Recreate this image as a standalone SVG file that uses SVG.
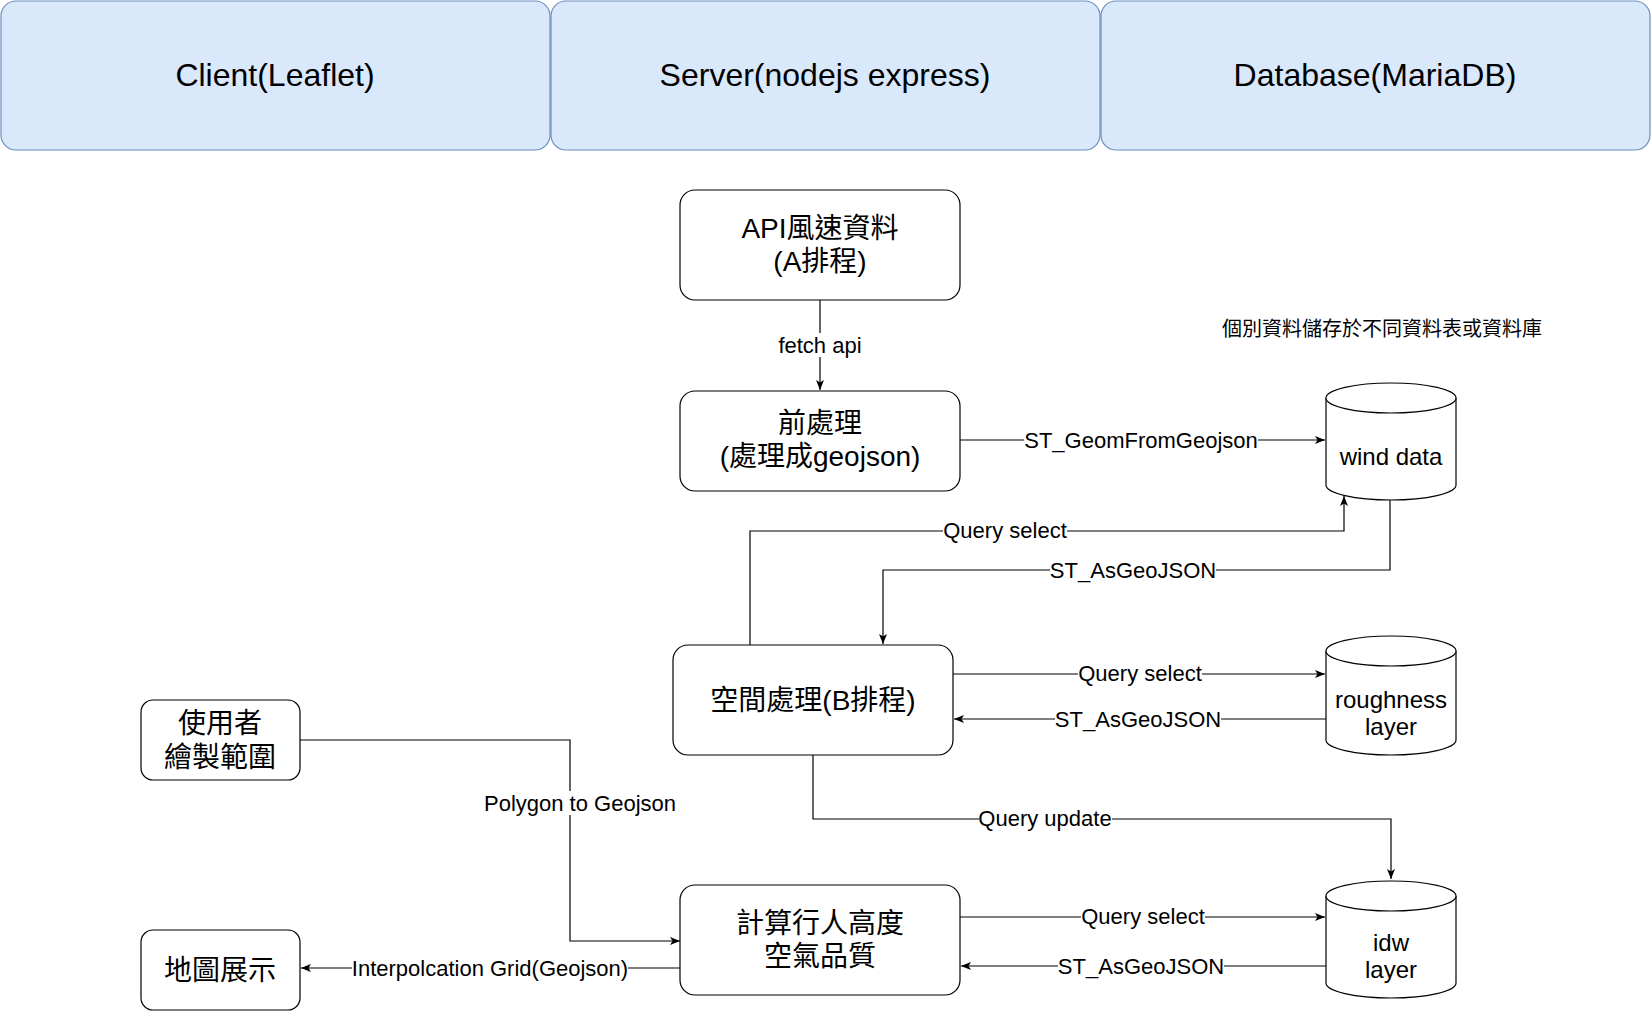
<svg xmlns="http://www.w3.org/2000/svg" width="1651" height="1011" viewBox="0 0 1651 1011">
<style>
text{font-family:"Liberation Sans","Noto Sans CJK TC",sans-serif;fill:#000;text-anchor:middle;dominant-baseline:central}
.hdr rect{fill:#dae8fc;stroke:#6c8ebf;stroke-width:1.2}
.hdr text{font-size:32px}
.node rect,.node path{fill:#fff;stroke:#000;stroke-width:1.2}
.node text{font-size:28px}
.cyl text{font-size:24px}
.edge{fill:none;stroke:#000;stroke-width:1.2}
.arr{marker-end:url(#ah)}
.lbl rect{fill:#fff;stroke:none}
.lbl text{font-size:22px}
.note{font-size:20px}
</style>
<defs>
<marker id="ah" markerUnits="userSpaceOnUse" markerWidth="10" markerHeight="8" refX="10" refY="4" orient="auto">
<path d="M0,0 L10,4 L0,8 L2.5,4 Z" fill="#000"/>
</marker>
</defs>
<rect width="1651" height="1011" fill="#fff"/>

<g id="hdr-client" class="hdr"><rect x="1" y="1" width="549" height="149" rx="15"/><text x="275" y="75">Client(Leaflet)</text></g>
<g id="hdr-server" class="hdr"><rect x="551" y="1" width="549" height="149" rx="15"/><text x="825" y="75">Server(nodejs express)</text></g>
<g id="hdr-db" class="hdr"><rect x="1101" y="1" width="549" height="149" rx="15"/><text x="1375" y="75">Database(MariaDB)</text></g>

<g id="connectors">
<path class="edge arr" d="M820,300 V390"/>
<path class="edge arr" d="M960,440 H1325"/>
<path class="edge arr" d="M750,645 V531 H1344 V496"/>
<path class="edge arr" d="M1390,500 V570 H883 V644"/>
<path class="edge arr" d="M953,674 H1325"/>
<path class="edge arr" d="M1326,719 H954"/>
<path class="edge arr" d="M813,755 V819 H1391 V879"/>
<path class="edge arr" d="M960,917 H1325"/>
<path class="edge arr" d="M1326,966 H961"/>
<path class="edge arr" d="M300,740 H570 V941 H680"/>
<path class="edge arr" d="M680,968 H301"/>
<g class="lbl">
<rect x="777" y="333" width="86" height="24"/><text x="820" y="345">fetch api</text>
<rect x="1024" y="428" width="234" height="24"/><text x="1141" y="440">ST_GeomFromGeojson</text>
<rect x="943" y="519" width="124" height="24"/><text x="1005" y="530">Query select</text>
<rect x="1050" y="558" width="166" height="24"/><text x="1133" y="570">ST_AsGeoJSON</text>
<rect x="1078" y="662" width="124" height="24"/><text x="1140" y="673">Query select</text>
<rect x="1055" y="707" width="166" height="24"/><text x="1138" y="719">ST_AsGeoJSON</text>
<rect x="979" y="807" width="133" height="24"/><text x="1045" y="818">Query update</text>
<rect x="1081" y="905" width="124" height="24"/><text x="1143" y="916">Query select</text>
<rect x="1058" y="954" width="166" height="24"/><text x="1141" y="966">ST_AsGeoJSON</text>
<rect x="478" y="791" width="204" height="24"/><text x="580" y="803">Polygon to Geojson</text>
<rect x="352" y="956" width="276" height="24"/><text x="490" y="968">Interpolcation Grid(Geojson)</text>
</g>
</g>

<g id="node-api" class="node"><rect x="680" y="190" width="280" height="110" rx="15"/><text x="820" y="228">API風速資料</text><text x="820" y="261">(A排程)</text></g>
<g id="node-pre" class="node"><rect x="680" y="391" width="280" height="100" rx="15"/><text x="820" y="423">前處理</text><text x="820" y="456">(處理成geojson)</text></g>
<g id="node-spatial" class="node"><rect x="673" y="645" width="280" height="110" rx="15"/><text x="813" y="700">空間處理(B排程)</text></g>
<g id="node-calc" class="node"><rect x="680" y="885" width="280" height="110" rx="15"/><text x="820" y="923">計算行人高度</text><text x="820" y="956">空氣品質</text></g>
<g id="node-user" class="node"><rect x="141" y="700" width="159" height="80" rx="12"/><text x="220" y="723">使用者</text><text x="220" y="757">繪製範圍</text></g>
<g id="node-map" class="node"><rect x="141" y="930" width="159" height="80" rx="12"/><text x="220" y="970">地圖展示</text></g>

<g id="db-wind" class="node cyl">
<path d="M1326,398 A65,15 0 0 1 1456,398 V485 A65,15 0 0 1 1326,485 Z"/>
<path d="M1326,398 A65,15 0 0 0 1456,398"/>
<text x="1391" y="456">wind data</text>
</g>
<g id="db-rough" class="node cyl">
<path d="M1326,651 A65,15 0 0 1 1456,651 V740 A65,15 0 0 1 1326,740 Z"/>
<path d="M1326,651 A65,15 0 0 0 1456,651"/>
<text x="1391" y="699">roughness</text><text x="1391" y="726">layer</text>
</g>
<g id="db-idw" class="node cyl">
<path d="M1326,896 A65,15 0 0 1 1456,896 V983 A65,15 0 0 1 1326,983 Z"/>
<path d="M1326,896 A65,15 0 0 0 1456,896"/>
<text x="1391" y="942">idw</text><text x="1391" y="969">layer</text>
</g>

<text id="note" class="note" x="1382" y="329">個別資料儲存於不同資料表或資料庫</text>
</svg>
